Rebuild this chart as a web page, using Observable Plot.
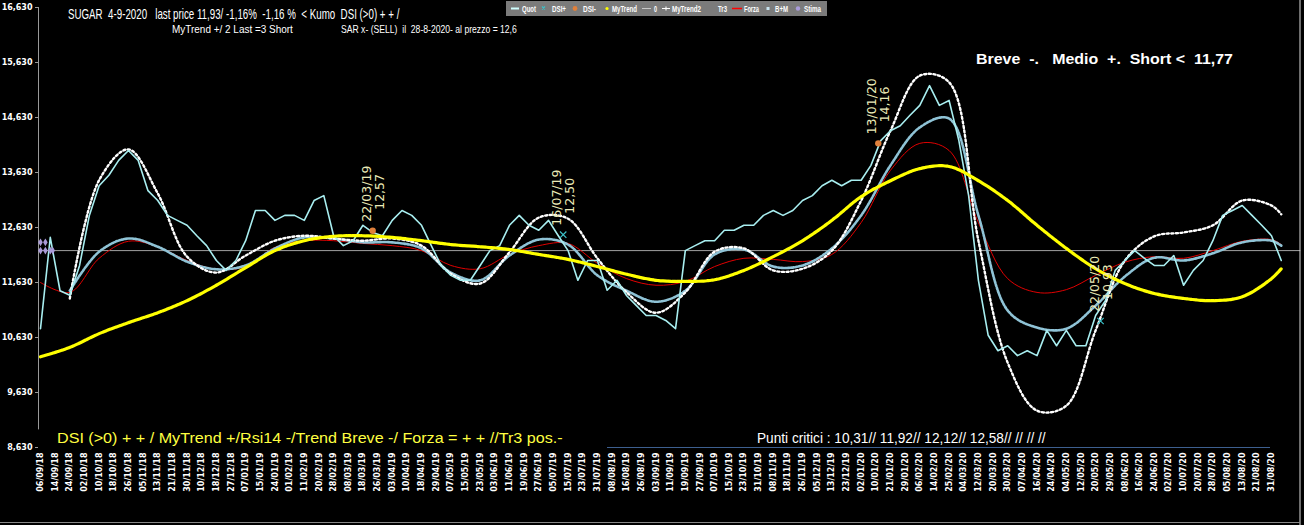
<!DOCTYPE html>
<html><head><meta charset="utf-8">
<script src="https://cdn.jsdelivr.net/npm/d3@7"></script>
<script src="https://cdn.jsdelivr.net/npm/@observablehq/plot@0.6"></script>
<style>
html,body{margin:0;padding:0;background:#000}
#c{position:relative;width:1304px;height:525px;background:#000;overflow:hidden}
#ov{position:absolute;left:0;top:0;pointer-events:none}
</style>
</head><body><div id="c"></div>
<script>
// ---------- data ----------
const tickLabels = ["06/09/18","14/09/18","24/09/18","02/10/18","10/10/18","18/10/18","26/10/18","05/11/18","13/11/18","21/11/18","30/11/18","10/12/18","18/12/18","27/12/18","07/01/19","15/01/19","24/01/19","01/02/19","11/02/19","20/02/19","28/02/19","08/03/19","18/03/19","26/03/19","03/04/19","10/04/19","18/04/19","29/04/19","07/05/19","15/05/19","23/05/19","03/06/19","11/06/19","19/06/19","27/06/19","05/07/19","15/07/19","23/07/19","31/07/19","08/08/19","16/08/19","26/08/19","03/09/19","11/09/19","19/09/19","27/09/19","07/10/19","15/10/19","23/10/19","31/10/19","08/11/19","18/11/19","26/11/19","05/12/19","13/12/19","23/12/19","02/01/20","10/01/20","21/01/20","29/01/20","06/02/20","14/02/20","25/02/20","04/03/20","12/03/20","20/03/20","30/03/20","07/04/20","16/04/20","24/04/20","04/05/20","12/05/20","20/05/20","29/05/20","08/06/20","16/06/20","24/06/20","02/07/20","10/07/20","20/07/20","28/07/20","05/08/20","13/08/20","21/08/20","31/08/20"];
const tickDays = tickLabels.map((_, i) => i * 6);
const yTicks = [8.63, 9.63, 10.63, 11.63, 12.63, 13.63, 14.63, 15.63, 16.63];

// Quot: one value every 4 trading days (day 0 .. 508)
const quotVal = [10.79,12.45,11.48,11.40,11.94,12.85,13.39,13.58,13.85,14.03,
 13.85,13.30,13.12,12.85,12.76,12.67,12.48,12.30,12.03,11.85,
 12.03,12.39,12.94,12.94,12.76,12.85,12.85,12.76,13.12,13.21,
 12.48,12.30,12.39,12.67,12.54,12.48,12.76,12.94,12.85,12.67,
 12.30,11.94,11.76,11.67,11.67,11.94,12.21,12.30,12.67,12.85,
 12.67,12.58,12.76,12.48,12.21,11.67,12.03,12.03,11.49,11.67,
 11.39,11.21,11.03,11.03,10.94,10.79,12.21,12.30,12.39,12.39,
 12.58,12.58,12.67,12.67,12.85,12.94,12.85,12.94,13.12,13.21,
 13.39,13.49,13.39,13.49,13.49,13.76,14.21,14.39,14.48,14.67,
 14.85,15.21,14.85,14.94,14.21,13.21,11.67,10.67,10.39,10.48,
 10.30,10.39,10.30,10.76,10.48,10.76,10.48,10.48,11.03,11.30,
 11.85,12.03,12.21,12.07,11.94,11.94,12.12,11.58,11.85,12.03,
 12.39,12.85,12.94,13.03,12.85,12.67,12.48,12.03];
const quotDays = quotVal.map((_, i) => i * 4);

// smooth series: one value every 12 trading days, plus the last day
const smoothDays = [0,12,24,36,48,60,72,84,96,108,120,132,144,156,168,180,192,204,216,228,240,252,264,276,288,300,312,324,336,348,360,372,384,396,408,420,432,444,456,468,480,492,504,508];
const myTrend = [10.28,10.45,10.70,10.90,11.08,11.30,11.58,11.90,12.21,12.39,
 12.47,12.48,12.45,12.39,12.32,12.28,12.23,12.14,12.05,11.92,
 11.78,11.67,11.65,11.68,11.85,12.10,12.39,12.76,13.19,13.48,
 13.70,13.74,13.48,13.12,12.67,12.25,11.88,11.61,11.43,11.34,
 11.30,11.37,11.70,11.88];
const myTrend2 = [null,11.34,13.49,14.05,13.25,12.10,11.81,12.12,12.39,12.48,
 12.43,12.39,12.43,12.30,11.79,11.61,12.18,12.81,12.79,12.07,
 11.45,11.08,11.45,12.19,12.25,11.85,11.88,12.21,13.12,14.39,
 15.39,15.27,12.39,10.17,9.30,9.39,10.76,12.03,12.47,12.54,
 12.67,13.12,13.03,12.87];
const bm = [null,11.48,12.19,12.43,12.28,12.01,11.87,11.94,12.25,12.45,
 12.43,12.36,12.36,12.25,11.81,11.67,12.12,12.41,12.32,11.76,
 11.48,11.28,11.48,12.14,12.23,11.92,11.94,12.25,12.85,13.76,
 14.45,14.61,12.85,11.12,10.81,10.79,11.21,11.74,12.08,12.03,
 12.16,12.36,12.39,12.30];
const forza = [11.63,11.45,12.07,12.38,12.28,12.03,11.87,11.92,12.27,12.39,
 12.39,12.34,12.30,12.21,11.94,11.88,12.14,12.30,12.34,11.98,
 11.70,11.58,11.65,11.92,12.07,12.05,12.01,12.14,12.72,13.67,
 14.16,14.03,12.72,11.70,11.45,11.50,11.76,12.00,12.10,12.07,
 12.21,12.38,12.41,12.32];
const zeroLevel = 12.21;
const stimaDays = [0, 2, 0, 2, 4, 5];
const stimaVal  = [12.36, 12.36, 12.21, 12.21, 12.21, 12.21];
const dsiMinusDays = [136, 343];
const dsiMinusVal  = [12.57, 14.16];
const dsiPlusDays  = [214, 434];
const dsiPlusVal   = [12.50, 10.93];
const annDays  = [136, 214, 343, 434];
const annVal   = [12.57, 12.50, 14.16, 10.93];
const annDate  = ["22/03/19", "16/07/19", "13/01/20", "22/05/20"];
const annLabel = ["12,57", "12,50", "14,16", "10,93"];

// ---------- tables ----------
const quot = quotVal.map((v, i) => ({day: quotDays[i], v}));
const series = arr => arr.map((v, i) => ({day: smoothDays[i], v}));
const stima = stimaVal.map((v, i) => ({day: stimaDays[i], v}));
const dsiM = dsiMinusVal.map((v, i) => ({day: dsiMinusDays[i], v}));
const dsiP = dsiPlusVal.map((v, i) => ({day: dsiPlusDays[i], v}));
const ann = annVal.map((v, i) => ({day: annDays[i], v, d: annDate[i], l: annLabel[i]}));
const labelOf = new Map(tickDays.map((d, i) => [d, tickLabels[i]]));

const X0 = -0.82, XR = 516;
const chart = Plot.plot({
  width: 1304, height: 525,
  marginLeft: 38, marginRight: 33, marginTop: 7, marginBottom: 78,
  style: {background: "#000", color: "#fff", fontFamily: "DejaVu Sans", fontSize: "8px"},
  x: {type: "linear", domain: [X0, 504], axis: null},
  y: {domain: [8.63, 16.63], axis: null},
  marks: [
    Plot.axisX({ticks: tickDays, tickFormat: d => labelOf.get(d), tickRotate: -90, tickSize: 0, tickPadding: 5, fontWeight: "bold", fontSize: 8, anchor: "bottom", label: null}),
    Plot.axisY({ticks: yTicks, tickFormat: d => d.toFixed(3).replace(".", ","), tickSize: 3, tickPadding: 3, fontWeight: "bold", fontSize: 8, stroke: "#999", anchor: "left", label: null}),
    Plot.ruleX([X0], {y1: 8.95, y2: 16.63, stroke: "#999"}),
    Plot.ruleY([zeroLevel], {x1: X0, x2: XR, stroke: "#a0a0a0", strokeWidth: 1}),
    Plot.line(series(forza), {x: "day", y: "v", stroke: "#e00000", strokeWidth: 1, curve: "catmull-rom"}),
    Plot.line(series(bm), {x: "day", y: "v", stroke: "#8fc3d6", strokeWidth: 2.6, strokeDasharray: "2,1.4", curve: "catmull-rom"}),
    Plot.line(series(myTrend2), {x: "day", y: "v", stroke: "#666", strokeWidth: 1, curve: "catmull-rom"}),
    Plot.line(series(myTrend2), {x: "day", y: "v", stroke: "#fff", strokeWidth: 2.4, strokeDasharray: "2,2.6", curve: "catmull-rom"}),
    Plot.line(quot, {x: "day", y: "v", stroke: "#a8eef0", strokeWidth: 1.6}),
    Plot.line(series(myTrend), {x: "day", y: "v", stroke: "#ffff00", strokeWidth: 3.2, strokeDasharray: "3.5,1", curve: "catmull-rom"}),
    Plot.dot(stima, {x: "day", y: "v", symbol: "diamond", r: 2.4, fill: "#a99ad8"}),
    Plot.dot(dsiM, {x: "day", y: "v", r: 3.2, fill: "#e0803c"}),
    Plot.dot(dsiP, {x: "day", y: "v", symbol: "times", r: 3, stroke: "#3cc0c8", strokeWidth: 1.2}),
    Plot.text(ann, {x: "day", y: "v", text: "d", rotate: -90, textAnchor: "start", lineAnchor: "middle", dx: -6, dy: -9, fontSize: 12.5, fill: "#ecebb8", fontFamily: "DejaVu Sans"}),
    Plot.text(ann, {x: "day", y: "v", text: "l", rotate: -90, textAnchor: "start", lineAnchor: "middle", dx: 7, dy: -21, fontSize: 12.5, fill: "#ecebb8", fontFamily: "DejaVu Sans"})
  ]
});
const host = document.getElementById("c");
host.appendChild(chart);

// ---------- overlay texts & legend ----------
const ov = d3.select(host).append("svg").attr("id", "ov").attr("width", 1304).attr("height", 525)
  .style("font-family", "'Liberation Sans', Arial, sans-serif");
ov.append("line").attr("x1", 1300).attr("x2", 1300).attr("y1", 0).attr("y2", 525).attr("stroke", "#ddd");
ov.append("line").attr("x1", 0).attr("x2", 1300).attr("y1", 522.5).attr("y2", 522.5).attr("stroke", "#888");
ov.append("line").attr("x1", 607).attr("x2", 1270).attr("y1", 447.5).attr("y2", 447.5).attr("stroke", "#3d5f8f");

// draws a text squeezed horizontally to a target width (condensed look)
function fitText(parent, o) {
  const t = parent.append("text").attr("x", 0).attr("y", 0).attr("font-size", o.s)
    .attr("font-weight", o.b ? "bold" : "normal").attr("fill", o.f || "#fff")
    .style("white-space", "pre").text(o.t);
  const natural = t.node().getComputedTextLength() || o.w;
  t.attr("transform", `translate(${o.x},${o.y}) scale(${o.w / natural},1)`);
  return t;
}

const texts = [
  {x: 68, y: 19.3, s: 14, w: 332, t: "SUGAR  4-9-2020   last price 11,93/ -1,16%  -1,16 %  < Kumo  DSI (>0) + + /"},
  {x: 172, y: 33, s: 11.5, w: 121, t: "MyTrend +/ 2 Last =3 Short"},
  {x: 341, y: 33, s: 10.5, w: 176, t: "SAR x- (SELL)  il  28-8-2020- al prezzo = 12,6"},
  {x: 976, y: 64, s: 14, w: 257, b: true, t: "Breve  -.   Medio  +.  Short <  11,77"},
  {x: 57, y: 443, s: 15, w: 506, f: "#ffff40", t: "DSI (>0) + + / MyTrend +/Rsi14 -/Trend Breve -/ Forza = + + //Tr3 pos.-"},
  {x: 757, y: 443, s: 14, w: 289, t: "Punti critici : 10,31// 11,92// 12,12// 12,58// // // //"}
];
texts.forEach(o => fitText(ov, o));

// legend
const lg = ov.append("g");
lg.append("rect").attr("x", 506).attr("y", 1).attr("width", 321).attr("height", 15).attr("fill", "#7b7b7b");
const legendItems = [
  {t: "Quot", x: 522, w: 14}, {t: "DSI+", x: 552, w: 14}, {t: "DSI-", x: 583, w: 13},
  {t: "MyTrend", x: 612, w: 25}, {t: "0", x: 654, w: 3}, {t: "MyTrend2", x: 672, w: 29},
  {t: "Tr3", x: 718, w: 9}, {t: "Forza", x: 744, w: 15}, {t: "B+M", x: 775, w: 13}, {t: "Stima", x: 804, w: 17}
];
legendItems.forEach(o => fitText(lg, {x: o.x, y: 11.5, s: 8.5, b: true, w: o.w, t: o.t}));
lg.append("line").attr("x1", 511).attr("x2", 519).attr("y1", 8.5).attr("y2", 8.5).attr("stroke", "#d0ffff").attr("stroke-width", 2);
lg.append("path").attr("d", "M542,6.5l3,3M545,6.5l-3,3").attr("stroke", "#3cc0c8").attr("stroke-width", 1.1);
lg.append("circle").attr("cx", 575).attr("cy", 8.5).attr("r", 2.4).attr("fill", "#e0803c");
lg.append("circle").attr("cx", 607).attr("cy", 8.5).attr("r", 1.6).attr("fill", "#ffff00");
lg.append("line").attr("x1", 642).attr("x2", 651).attr("y1", 8.5).attr("y2", 8.5).attr("stroke", "#c8c8c8");
lg.append("line").attr("x1", 662).attr("x2", 670).attr("y1", 8.5).attr("y2", 8.5).attr("stroke", "#fff");
lg.append("path").attr("d", "M666,6.5v4M664,8.5h4").attr("stroke", "#fff").attr("stroke-width", 1.1);
lg.append("line").attr("x1", 732).attr("x2", 742).attr("y1", 8.5).attr("y2", 8.5).attr("stroke", "#ff0000").attr("stroke-width", 1.5);
lg.append("rect").attr("x", 766.5).attr("y", 7).attr("width", 3).attr("height", 3).attr("fill", "#c8e4f0");
lg.append("circle").attr("cx", 798).attr("cy", 8.5).attr("r", 2.2).attr("fill", "#aa9cdc");
</script>
</body></html>
